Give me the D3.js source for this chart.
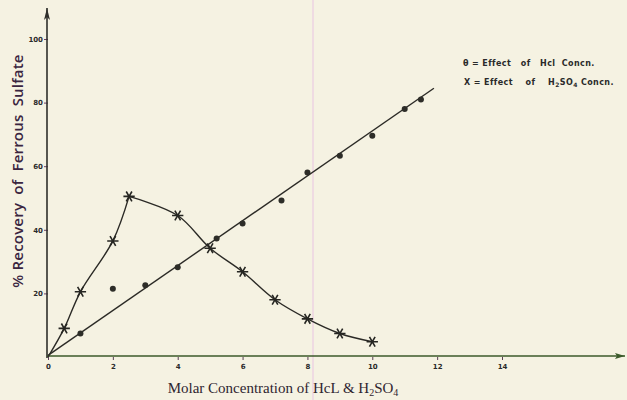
<!DOCTYPE html>
<html>
<head>
<meta charset="utf-8">
<script src="https://cdn.jsdelivr.net/npm/d3@7"></script>
<style>
    body { margin: 0; background: #f5f2e2; }
    svg { display: block; }
</style>
</head>
<body>
<div id="chart"></div>
<script>
// data
var hclPoints = [[1, 7.4], [2, 21.5], [3, 22.6], [4, 28.2], [5.2, 37.3], [6, 42], [7.2, 49.2], [8, 58], [9, 63.3], [10, 69.6], [11, 78], [11.5, 81]];
var hclFit = [[0, 0.5], [11.9, 84.5]];
var origin = [0, 0];
var h2so4Points = [[0.5, 9], [1, 20.5], [2, 36.5], [2.5, 50.5], [4, 44.5], [5, 34.2], [6, 26.8], [7, 18], [8, 12], [9, 7.4], [10, 4.8]];
var xTicks = [0, 2, 4, 6, 8, 10, 12, 14];
var yTicks = [20, 40, 60, 80, 100];

(function () {

    var width = 627,
        height = 400;

    var ink = "#2b2a26";

    var x = d3.scaleLinear().domain([0, 14]).range([48, 502]);
    var y = d3.scaleLinear().domain([0, 100]).range([357, 39]);

    var svg = d3.select("#chart").append("svg")
        .attr("width", width)
        .attr("height", height);

    svg.append("rect")
        .attr("width", width)
        .attr("height", height)
        .attr("fill", "#f5f2e2");

    // faint pink crease in the scan
    svg.append("line")
        .attr("x1", 313).attr("x2", 313)
        .attr("y1", 0).attr("y2", height)
        .attr("stroke", "#ecd3e2")
        .attr("stroke-width", 1.5);

    // arrow heads
    var defs = svg.append("defs");
    defs.append("marker")
        .attr("id", "arrY")
        .attr("viewBox", "0 0 6 12")
        .attr("refX", 3).attr("refY", 0)
        .attr("markerWidth", 6).attr("markerHeight", 12)
        .attr("markerUnits", "userSpaceOnUse")
        .attr("orient", "0")
        .append("path")
        .attr("d", "M0,12L3,0L6,12L3,9Z")
        .attr("fill", "#2f2f2b");
    defs.append("marker")
        .attr("id", "arrX")
        .attr("viewBox", "0 0 10 6")
        .attr("refX", 10).attr("refY", 3)
        .attr("markerWidth", 10).attr("markerHeight", 6)
        .attr("markerUnits", "userSpaceOnUse")
        .attr("orient", "0")
        .append("path")
        .attr("d", "M0,0L10,3L0,6L2,3Z")
        .attr("fill", "#3b5a2a");

    // x axis ticks + labels
    var xAxis = d3.axisBottom(x).tickValues(xTicks).tickSize(3).tickPadding(4);
    var gx = svg.append("g")
        .attr("transform", "translate(0," + y(0) + ")")
        .call(xAxis);
    gx.select(".domain").remove();
    gx.selectAll("line").attr("stroke", "#5a3f55").attr("stroke-width", 1);
    gx.selectAll("text")
        .style("font-family", "DejaVu Sans")
        .style("font-weight", "bold")
        .style("font-size", "7px")
        .style("fill", "#2a2a2a");

    // y axis ticks + labels
    var yAxis = d3.axisLeft(y).tickValues(yTicks).tickSize(4).tickPadding(1);
    var gy = svg.append("g")
        .attr("transform", "translate(" + x(0) + ",0)")
        .call(yAxis);
    gy.select(".domain").remove();
    gy.selectAll("line").attr("stroke", "#6a3f66").attr("stroke-width", 1);
    gy.selectAll("text")
        .style("font-family", "DejaVu Sans")
        .style("font-weight", "bold")
        .style("font-size", "7px")
        .style("fill", "#2a2a2a");

    // axis lines with arrows
    svg.append("line")
        .attr("x1", x(0) - 1).attr("x2", x(0) - 1)
        .attr("y1", y(0) + 1).attr("y2", 8)
        .attr("stroke", "#2f2f2b")
        .attr("stroke-width", 1.6)
        .attr("marker-end", "url(#arrY)");
    svg.append("line")
        .attr("x1", x(0) - 1).attr("x2", 625)
        .attr("y1", y(0) - 1).attr("y2", y(0) - 1)
        .attr("stroke", "#3b5a2a")
        .attr("stroke-width", 1.6)
        .attr("marker-end", "url(#arrX)");

    // HCl straight fit
    var line = d3.line()
        .x(function (d) { return x(d[0]); })
        .y(function (d) { return y(d[1]); });

    svg.append("path")
        .datum(hclFit)
        .attr("d", line)
        .attr("fill", "none")
        .attr("stroke", ink)
        .attr("stroke-width", 1.4);

    // H2SO4 curve, rising then falling from the peak
    var peak = d3.maxIndex(h2so4Points, function (d) { return d[1]; });
    var rise = [origin].concat(h2so4Points.slice(0, peak + 1));
    var fall = h2so4Points.slice(peak);
    var curve = d3.line()
        .x(function (d) { return x(d[0]); })
        .y(function (d) { return y(d[1]); })
        .curve(d3.curveCatmullRom.alpha(0.5));

    [rise, fall].forEach(function (seg) {
        svg.append("path")
            .datum(seg)
            .attr("d", curve)
            .attr("fill", "none")
            .attr("stroke", ink)
            .attr("stroke-width", 1.4);
    });

    // circle markers (HCl)
    svg.selectAll(".hcl")
        .data(hclPoints)
        .enter().append("circle")
        .attr("class", "hcl")
        .attr("cx", function (d) { return x(d[0]); })
        .attr("cy", function (d) { return y(d[1]); })
        .attr("r", 3)
        .attr("fill", "#2d2d28");

    // star markers (H2SO4)
    var star = d3.symbol().type(d3.symbolAsterisk).size(90);
    svg.selectAll(".h2so4")
        .data(h2so4Points)
        .enter().append("path")
        .attr("class", "h2so4")
        .attr("d", star)
        .attr("transform", function (d) {
            return "translate(" + x(d[0]) + "," + y(d[1]) + ") rotate(90)";
        })
        .attr("fill", "none")
        .attr("stroke", "#262622")
        .attr("stroke-width", 1.6);

    // legend
    var legend = svg.append("g")
        .style("font-family", "DejaVu Sans")
        .style("font-weight", "bold")
        .style("font-size", "8px")
        .style("letter-spacing", "0.4px")
        .style("fill", "#2a2a2a");

    legend.append("text")
        .attr("xml:space", "preserve")
        .attr("x", 463).attr("y", 66)
        .text("\u03b8 = Effect   of   Hcl  Concn.");

    var l2 = legend.append("text")
        .attr("xml:space", "preserve")
        .attr("x", 464).attr("y", 85);
    l2.append("tspan").text("X = Effect    of    H");
    l2.append("tspan").attr("dy", 2).style("font-size", "6px").text("2");
    l2.append("tspan").attr("dy", -2).text("SO");
    l2.append("tspan").attr("dy", 2).style("font-size", "6px").text("4");
    l2.append("tspan").attr("dy", -2).text(" Concn.");

    // y title
    svg.append("text")
        .attr("xml:space", "preserve")
        .attr("transform", "translate(23,171) rotate(-90)")
        .attr("text-anchor", "middle")
        .style("font-family", "Open Sans")
        .style("font-weight", "600")
        .style("font-size", "15px")
        .style("letter-spacing", "0.2px")
        .style("fill", "#3a2540")
        .text("% Recovery  of  Ferrous  Sulfate");

    // x title
    var xt = svg.append("text")
        .attr("x", 283).attr("y", 393)
        .attr("text-anchor", "middle")
        .style("font-family", "Liberation Serif")
        .style("font-size", "15px")
        .style("fill", "#2f2530");
    xt.append("tspan").text("Molar Concentration of HcL & H");
    xt.append("tspan").attr("dy", 3).style("font-size", "10px").text("2");
    xt.append("tspan").attr("dy", -3).text("SO");
    xt.append("tspan").attr("dy", 3).style("font-size", "10px").text("4");

})();
</script>
</body>
</html>
